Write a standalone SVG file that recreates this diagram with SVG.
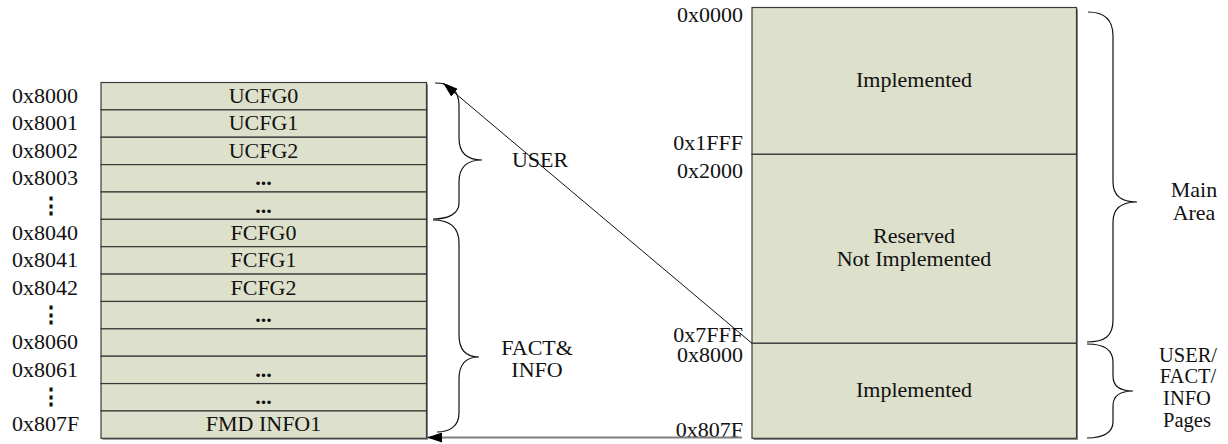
<svg xmlns="http://www.w3.org/2000/svg" width="1228" height="444" viewBox="0 0 1228 444" font-family="'Liberation Serif','Times New Roman',Times,serif">
<style>
text{font-family:"Liberation Serif","Times New Roman",Times,serif;font-size:22px;fill:#111}
.c{text-anchor:middle}
.r{text-anchor:end}
.b{font-weight:bold}
.s{font-size:20.5px}
.cell{fill:#dde0cb;stroke:#3a3a3a;stroke-width:1.2}
.sh{fill:#8a8a8a}
.brace{fill:none;stroke:#111;stroke-width:1.2}
.conn{fill:none;stroke:#111;stroke-width:1}
.gray{fill:none;stroke:#808080;stroke-width:2}
</style>
<defs>
<marker id="ah" viewBox="0 0 15 10" refX="15" refY="5" markerWidth="15" markerHeight="10" markerUnits="userSpaceOnUse" orient="auto">
<path d="M0,0 L15,5 L0,10 z" fill="#000"/>
</marker>
</defs>

<!-- shadows -->
<rect class="sh" x="102.5" y="84" width="325.5" height="355.8"/>
<rect class="sh" x="753.5" y="9" width="324.5" height="431"/>

<!-- left table rows -->
<g id="row-ucfg0"><rect class="cell" x="101" y="82.5" width="325.5" height="27.37"/><text class="c" x="263.5" y="103">UCFG0</text></g>
<g id="row-ucfg1"><rect class="cell" x="101" y="109.87" width="325.5" height="27.37"/><text class="c" x="263.5" y="130.4">UCFG1</text></g>
<g id="row-ucfg2"><rect class="cell" x="101" y="137.24" width="325.5" height="27.37"/><text class="c" x="263.5" y="157.7">UCFG2</text></g>
<g id="row-u3"><rect class="cell" x="101" y="164.61" width="325.5" height="27.37"/><text class="c b" x="263.5" y="185.1">...</text></g>
<g id="row-u4"><rect class="cell" x="101" y="191.98" width="325.5" height="27.37"/><text class="c b" x="263.5" y="212.5">...</text></g>
<g id="row-fcfg0"><rect class="cell" x="101" y="219.35" width="325.5" height="27.37"/><text class="c" x="263.5" y="239.9">FCFG0</text></g>
<g id="row-fcfg1"><rect class="cell" x="101" y="246.72" width="325.5" height="27.37"/><text class="c" x="263.5" y="267.2">FCFG1</text></g>
<g id="row-fcfg2"><rect class="cell" x="101" y="274.09" width="325.5" height="27.37"/><text class="c" x="263.5" y="294.6">FCFG2</text></g>
<g id="row-f3"><rect class="cell" x="101" y="301.46" width="325.5" height="27.37"/><text class="c b" x="263.5" y="322">...</text></g>
<g id="row-f4"><rect class="cell" x="101" y="328.83" width="325.5" height="27.37"/></g>
<g id="row-f5"><rect class="cell" x="101" y="356.2" width="325.5" height="27.37"/><text class="c b" x="263.5" y="376.7">...</text></g>
<g id="row-f6"><rect class="cell" x="101" y="383.57" width="325.5" height="27.37"/><text class="c b" x="263.5" y="404.1">...</text></g>
<g id="row-fmd"><rect class="cell" x="101" y="410.94" width="325.5" height="27.37"/><text class="c" x="263.5" y="431.4">FMD INFO1</text></g>

<!-- left addresses -->
<g id="left-addr">
<text x="12" y="103">0x8000</text>
<text x="12" y="130.4">0x8001</text>
<text x="12" y="157.7">0x8002</text>
<text x="12" y="185.1">0x8003</text>
<text class="c b" x="51" y="212.5">⋮</text>
<text x="12" y="239.9">0x8040</text>
<text x="12" y="267.2">0x8041</text>
<text x="12" y="294.6">0x8042</text>
<text class="c b" x="51" y="322">⋮</text>
<text x="12" y="349.3">0x8060</text>
<text x="12" y="376.7">0x8061</text>
<text class="c b" x="51" y="404.1">⋮</text>
<text x="12" y="431.4">0x807F</text>
</g>

<!-- right table -->
<g id="main-impl"><rect class="cell" x="752" y="7.5" width="324.5" height="146.8"/><text class="c" x="914" y="87.3">Implemented</text></g>
<g id="main-reserved"><rect class="cell" x="752" y="154.3" width="324.5" height="189"/><text class="c" x="914" y="243.3">Reserved</text><text class="c" x="914" y="266">Not Implemented</text></g>
<g id="info-impl"><rect class="cell" x="752" y="343.3" width="324.5" height="95"/><text class="c" x="914" y="396.7">Implemented</text></g>

<g id="right-addr">
<text class="r" x="743" y="21.7">0x0000</text>
<text class="r" x="743" y="150">0x1FFF</text>
<text class="r" x="743" y="178.3">0x2000</text>
<text class="r" x="743" y="341.5">0x7FFF</text>
<text class="r" x="743" y="362">0x8000</text>
<text class="r" x="743" y="436.7">0x807F</text>
</g>

<!-- braces -->
<g id="brace-user">
<path class="brace" d="M435,83 C452,83 459,92 459,106 L459,138 C459,152 466,160 482,160 C466,160 459,168 459,182 L459,203 C459,214 448,219 433,219"/>
<text class="c" x="540" y="167">USER</text>
</g>
<g id="brace-fact">
<path class="brace" d="M433,220 C450,220 459,228 459,243 L459,335 C459,350 466,357 479,357 C466,357 459,364 459,379 L459,413 C459,426 450,432 437,432"/>
<text class="c" x="537" y="355">FACT&amp;</text>
<text class="c" x="537" y="377">INFO</text>
</g>
<g id="brace-main">
<path class="brace" d="M1088,12 C1105,12 1113,20 1113,36 L1113,182 C1113,196 1122,202 1137,202 C1122,202 1113,208 1113,222 L1113,320 C1113,336 1105,342 1087,342"/>
<text class="c" x="1194" y="197">Main</text>
<text class="c" x="1194" y="220">Area</text>
</g>
<g id="brace-pages">
<path class="brace" d="M1087,344 C1104,344 1113,350 1113,362 L1113,376 C1113,386 1120,391 1133,391 C1120,391 1113,396 1113,406 L1113,422 C1113,432 1104,438 1087,438"/>
<text class="c s" x="1188" y="361.7">USER/</text>
<text class="c s" x="1188" y="383.3">FACT/</text>
<text class="c s" x="1187" y="405">INFO</text>
<text class="c s" x="1187" y="426.7">Pages</text>
</g>

<!-- connectors -->
<g id="connectors">
<line class="conn" x1="752" y1="343.3" x2="443" y2="83" marker-end="url(#ah)"/>
<line class="gray" x1="742" y1="437.5" x2="427" y2="437.5" marker-end="url(#ah)"/>
</g>
</svg>
